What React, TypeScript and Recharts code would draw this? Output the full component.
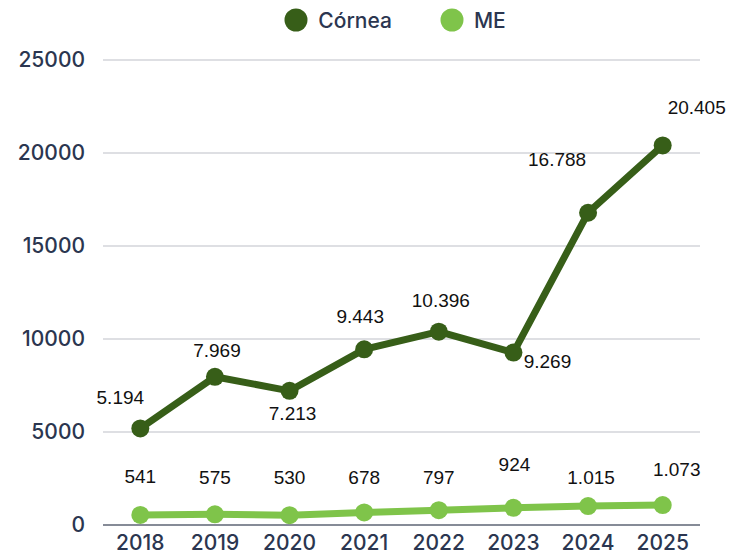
import React from "react";
import { LineChart, Line, XAxis, YAxis, CartesianGrid, Legend, LabelList } from "recharts";

const years = ["2018", "2019", "2020", "2021", "2022", "2023", "2024", "2025"];
const cornea = [5194, 7969, 7213, 9443, 10396, 9269, 16788, 20405];
const me = [541, 575, 530, 678, 797, 924, 1015, 1073];
const yTicks = [0, 5000, 10000, 15000, 20000, 25000];

const data = years.map((y, i) => ({ year: y, cornea: cornea[i], me: me[i] }));

const corneaOffsets = [
  [-20, -31], [2, -26], [3, 23], [-4, -33], [2, -31], [34, 9], [-31, -53], [34, -38],
];
const meOffsets = [
  [0, -38], [0, -37], [0, -38], [0, -35], [0, -33], [1, -43], [3, -29], [14, -36],
];

const DARK = "#375e18";
const LIGHT = "#7fc44a";
const NAVY = "#2b3650";
const AXIS_FONT = "Inter, 'DejaVu Sans', sans-serif";

const fmt = (v: number) => v.toLocaleString("de-DE");

const makeLabel = (offsets: number[][]) => (props: any) => {
  const { x, y, value, index } = props;
  const [dx, dy] = offsets[index] || [0, -20];
  return (
    <text
      x={x + dx}
      y={y + dy}
      textAnchor="middle"
      dominantBaseline="central"
      fontFamily="'Liberation Sans', Arial, sans-serif"
      fontSize={19}
      fill="#111"
    >
      {fmt(value)}
    </text>
  );
};

const LegendContent = () => (
  <div style={{ display: "flex", justifyContent: "center", alignItems: "center", height: 40, paddingLeft: 50 }}>
    {[
      { name: "Córnea", color: DARK },
      { name: "ME", color: LIGHT },
    ].map((it, i) => (
      <div key={it.name} style={{ display: "flex", alignItems: "center", marginLeft: i === 0 ? 0 : 48 }}>
        <svg width={24} height={24} style={{ marginRight: 10 }}>
          <circle cx={12} cy={12} r={11.5} fill={it.color} />
        </svg>
        <span style={{ fontFamily: AXIS_FONT, fontSize: 21, color: NAVY, fontWeight: 500 }}>{it.name}</span>
      </div>
    ))}
  </div>
);

export default function App() {
  return (
    <div style={{ position: "absolute", left: 0, top: 0, width: 740, height: 553, background: "#fff" }}>
      <LineChart width={740} height={553} data={data} margin={{ top: 20, right: 40, bottom: 0, left: 0 }}>
        <CartesianGrid vertical={false} stroke="#d3d5da" strokeWidth={1.5} />
        <Legend verticalAlign="top" height={40} wrapperStyle={{ top: 0, left: 0, width: 740 }} content={<LegendContent />} />
        <XAxis
          dataKey="year"
          scale="band"
          height={28}
          tickLine={false}
          axisLine={{ stroke: "#868b97", strokeWidth: 2 }}
          tickMargin={4}
          tick={{ fill: NAVY, fontSize: 21, fontFamily: AXIS_FONT, fontWeight: 500 }}
          interval={0}
        />
        <YAxis
          width={103}
          domain={[0, 25000]}
          ticks={yTicks}
          axisLine={false}
          tickLine={false}
          tickMargin={12}
          tick={{ fill: NAVY, fontSize: 21, fontFamily: AXIS_FONT, fontWeight: 500 }}
        />
        <Line
          dataKey="cornea"
          stroke={DARK}
          strokeWidth={7}
          dot={{ r: 9, fill: DARK, stroke: DARK, strokeWidth: 0 }}
          isAnimationActive={false}
        >
          <LabelList dataKey="cornea" content={makeLabel(corneaOffsets)} />
        </Line>
        <Line
          dataKey="me"
          stroke={LIGHT}
          strokeWidth={7}
          dot={{ r: 9, fill: LIGHT, stroke: LIGHT, strokeWidth: 0 }}
          isAnimationActive={false}
        >
          <LabelList dataKey="me" content={makeLabel(meOffsets)} />
        </Line>
      </LineChart>
    </div>
  );
}
